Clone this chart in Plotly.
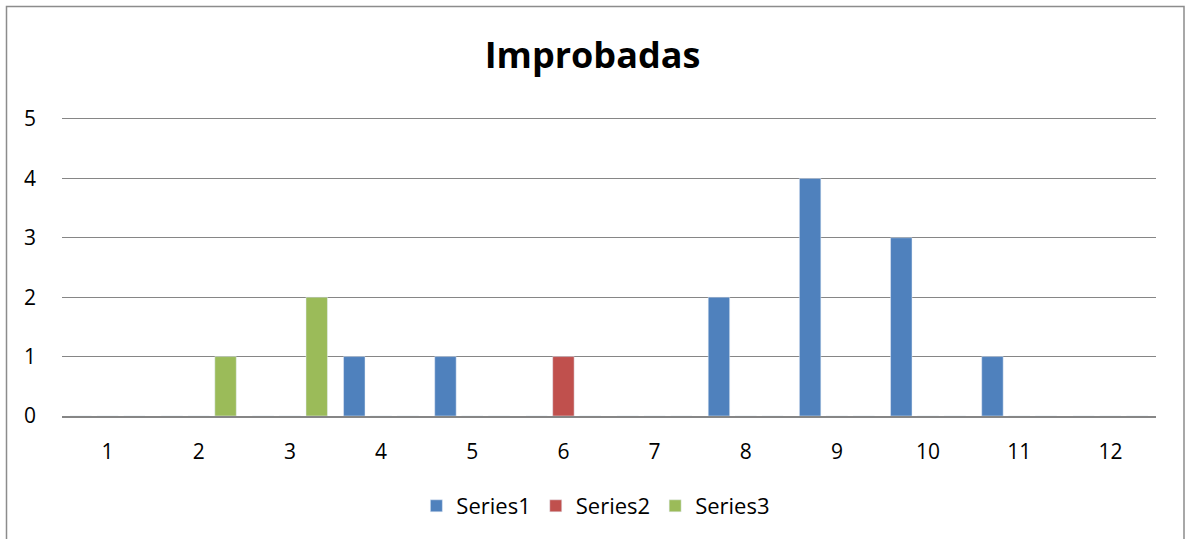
import plotly.graph_objects as go

categories = [str(i) for i in range(1, 13)]
series1 = [0, 0, 0, 1, 1, 0, 0, 2, 4, 3, 1, 0]
series2 = [0, 0, 0, 0, 0, 1, 0, 0, 0, 0, 0, 0]
series3 = [0, 1, 2, 0, 0, 0, 0, 0, 0, 0, 0, 0]

names = ["Series1", "Series2", "Series3"]
colors = ["#4F81BD", "#C0504D", "#9BBB59"]

fig = go.Figure()
for name, vals, col in zip(names, [series1, series2, series3], colors):
    fig.add_trace(go.Bar(x=categories, y=vals, name=name, marker_color=col))

# chart frame like the Excel chart area border
W, H = 1185, 539
l, r, t, b = 62, 29, 116, 123
pw, ph = W - l - r, H - t - b
fig.add_shape(type="rect", xref="paper", yref="paper",
              x0=(6.5 - l) / pw, x1=(1184 - l) / pw,
              y0=(H - b - 560) / ph, y1=(H - b - 6.5) / ph,
              line=dict(color="#8C8C8C", width=1.5), fillcolor="rgba(0,0,0,0)")

fig.update_layout(
    width=W, height=H,
    margin=dict(l=l, r=r, t=t, b=b),
    paper_bgcolor="white", plot_bgcolor="white",
    font=dict(family="'Open Sans', 'Noto Sans', sans-serif", size=21, color="black"),
    title=dict(text="<b>Improbadas</b>", x=0.5, xanchor="center",
               y=1 - 55 / H, yanchor="middle", font=dict(size=36)),
    barmode="group", bargap=0.118, bargroupgap=0.2,
    showlegend=True,
    legend=dict(orientation="h", x=0.488, xanchor="center",
                y=(H - b - 506) / ph, yanchor="middle",
                font=dict(size=22), itemwidth=30, traceorder="normal"),
    xaxis=dict(showgrid=False, showline=True, linecolor="#868686", linewidth=1.5,
               ticks="", ticklabelstandoff=16),
    yaxis=dict(range=[0, 5.05], dtick=1, showgrid=True, gridcolor="#868686",
               gridwidth=1.3, zeroline=False, showline=False, ticks="",
               ticklabelstandoff=25),
)

fig.write_html("out.html", config={"displayModeBar": False},
               post_script="document.body.style.margin='0';")
